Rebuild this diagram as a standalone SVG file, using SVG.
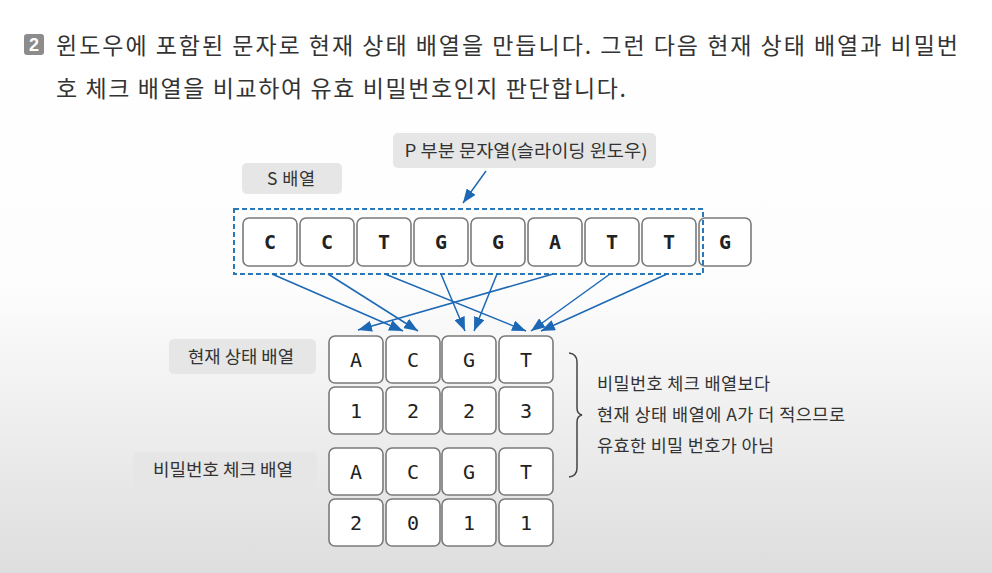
<svg xmlns="http://www.w3.org/2000/svg" width="992" height="573" viewBox="0 0 992 573">
<defs>
<linearGradient id="bg" x1="0" y1="0" x2="0" y2="1">
<stop offset="0" stop-color="#ffffff"/>
<stop offset="0.5" stop-color="#fdfdfd"/>
<stop offset="1" stop-color="#dedede"/>
</linearGradient>
<marker id="ah" viewBox="0 0 14 11" refX="14" refY="5.5" markerWidth="14" markerHeight="11" markerUnits="userSpaceOnUse" orient="auto">
<path d="M0,0 L14,5.5 L0,11 Z" fill="#1d68b5"/>
</marker>
<style>
.hd{font-family:"Noto Sans CJK KR","Noto Sans",sans-serif;font-size:23px;fill:#333}
.lbl{fill:#e6e6e6}
.lt{font-family:"Noto Sans CJK KR","Noto Sans",sans-serif;font-size:17.5px;fill:#333;text-anchor:middle}
.cell{fill:#ffffff;stroke:#7a7a7a;stroke-width:1.6}
.sl{font-family:"DejaVu Sans Mono",monospace;font-size:20px;font-weight:bold;fill:#222;text-anchor:middle}
.gl{font-family:"DejaVu Sans Mono",monospace;font-size:20px;fill:#222;text-anchor:middle}
.arr{stroke:#1d68b5;stroke-width:1.5;fill:none;marker-end:url(#ah)}
.note{font-family:"Noto Sans CJK KR","Noto Sans",sans-serif;font-size:17.5px;fill:#333}
</style>
</defs>
<rect width="992" height="573" fill="url(#bg)"/>

<g id="header">
<rect x="24" y="34" width="20" height="21" rx="3" fill="#8c8c8c"/>
<text x="34" y="51" font-family="Liberation Sans, sans-serif" font-size="18" font-weight="bold" fill="#fff" text-anchor="middle">2</text>
<text class="hd" x="56" y="54" textLength="902" lengthAdjust="spacing">윈도우에 포함된 문자로 현재 상태 배열을 만듭니다. 그런 다음 현재 상태 배열과 비밀번</text>
<text class="hd" x="56" y="97" textLength="570" lengthAdjust="spacing">호 체크 배열을 비교하여 유효 비밀번호인지 판단합니다.</text>
</g>

<g id="label-p">
<rect class="lbl" x="393" y="133" width="263" height="35" rx="5"/>
<text class="lt" x="526" y="157" font-size="18.5" textLength="243" lengthAdjust="spacingAndGlyphs">P 부분 문자열(슬라이딩 윈도우)</text>
</g>
<g id="label-s">
<rect class="lbl" x="242" y="163" width="100" height="31" rx="5"/>
<text class="lt" x="291" y="185" font-size="18.5" textLength="48" lengthAdjust="spacing">S 배열</text>
</g>

<g id="s-array">
<rect class="cell" x="243" y="218" width="54" height="48" rx="6"/>
<rect class="cell" x="300" y="218" width="54" height="48" rx="6"/>
<rect class="cell" x="357" y="218" width="54" height="48" rx="6"/>
<rect class="cell" x="414" y="218" width="54" height="48" rx="6"/>
<rect class="cell" x="471" y="218" width="54" height="48" rx="6"/>
<rect class="cell" x="528" y="218" width="54" height="48" rx="6"/>
<rect class="cell" x="585" y="218" width="54" height="48" rx="6"/>
<rect class="cell" x="642" y="218" width="54" height="48" rx="6"/>
<rect class="cell" x="699" y="218" width="52" height="48" rx="6"/>
<text class="sl" x="270" y="249">C</text>
<text class="sl" x="327" y="249">C</text>
<text class="sl" x="384" y="249">T</text>
<text class="sl" x="441" y="249">G</text>
<text class="sl" x="498" y="249">G</text>
<text class="sl" x="555" y="249">A</text>
<text class="sl" x="612" y="249">T</text>
<text class="sl" x="669" y="249">T</text>
<text class="sl" x="725" y="249">G</text>
</g>

<g id="window">
<rect x="234" y="209" width="469" height="65" fill="none" stroke="#2a78b8" stroke-width="2" stroke-dasharray="5,3"/>
</g>

<g id="label-current">
<rect class="lbl" x="169" y="339" width="147" height="35" rx="5"/>
<text class="lt" x="241" y="363" textLength="106" lengthAdjust="spacingAndGlyphs">현재 상태 배열</text>
</g>
<g id="label-check">
<rect class="lbl" x="133" y="452" width="184" height="35" rx="5"/>
<text class="lt" x="223" y="476" textLength="140" lengthAdjust="spacingAndGlyphs">비밀번호 체크 배열</text>
</g>

<g id="current-array">
<rect class="cell" x="329" y="336" width="54" height="47" rx="6"/>
<rect class="cell" x="386" y="336" width="54" height="47" rx="6"/>
<rect class="cell" x="442" y="336" width="54" height="47" rx="6"/>
<rect class="cell" x="499" y="336" width="54" height="47" rx="6"/>
<rect class="cell" x="329" y="387" width="54" height="47" rx="6"/>
<rect class="cell" x="386" y="387" width="54" height="47" rx="6"/>
<rect class="cell" x="442" y="387" width="54" height="47" rx="6"/>
<rect class="cell" x="499" y="387" width="54" height="47" rx="6"/>
<text class="gl" x="356" y="367">A</text>
<text class="gl" x="413" y="367">C</text>
<text class="gl" x="469" y="367">G</text>
<text class="gl" x="526" y="367">T</text>
<text class="gl" x="356" y="418">1</text>
<text class="gl" x="413" y="418">2</text>
<text class="gl" x="469" y="418">2</text>
<text class="gl" x="526" y="418">3</text>
</g>

<g id="check-array">
<rect class="cell" x="329" y="448" width="54" height="47" rx="6"/>
<rect class="cell" x="386" y="448" width="54" height="47" rx="6"/>
<rect class="cell" x="442" y="448" width="54" height="47" rx="6"/>
<rect class="cell" x="499" y="448" width="54" height="47" rx="6"/>
<rect class="cell" x="329" y="499" width="54" height="47" rx="6"/>
<rect class="cell" x="386" y="499" width="54" height="47" rx="6"/>
<rect class="cell" x="442" y="499" width="54" height="47" rx="6"/>
<rect class="cell" x="499" y="499" width="54" height="47" rx="6"/>
<text class="gl" x="356" y="479">A</text>
<text class="gl" x="413" y="479">C</text>
<text class="gl" x="469" y="479">G</text>
<text class="gl" x="526" y="479">T</text>
<text class="gl" x="356" y="530">2</text>
<text class="gl" x="413" y="530">0</text>
<text class="gl" x="469" y="530">1</text>
<text class="gl" x="526" y="530">1</text>
</g>

<g id="connectors">
<line class="arr" x1="486" y1="171" x2="463" y2="203"/>
<line class="arr" x1="272" y1="274" x2="403" y2="331"/>
<line class="arr" x1="328" y1="274" x2="418" y2="331"/>
<line class="arr" x1="385" y1="274" x2="526" y2="331"/>
<line class="arr" x1="441" y1="274" x2="465" y2="331"/>
<line class="arr" x1="497" y1="274" x2="474" y2="331"/>
<line class="arr" x1="553" y1="274" x2="358" y2="330"/>
<line class="arr" x1="610" y1="274" x2="531" y2="331"/>
<line class="arr" x1="667" y1="274" x2="541" y2="331"/>
</g>

<g id="note">
<path d="M569,353 Q577,354 577,362 L577,408 Q577,414 582,415 Q577,416 577,422 L577,468 Q577,476 569,477" fill="none" stroke="#444" stroke-width="1.5"/>
<text class="note" x="597" y="390" textLength="173" lengthAdjust="spacing">비밀번호 체크 배열보다</text>
<text class="note" x="597" y="421" textLength="248" lengthAdjust="spacing">현재 상태 배열에 A가 더 적으므로</text>
<text class="note" x="597" y="452" textLength="177" lengthAdjust="spacing">유효한 비밀 번호가 아님</text>
</g>
</svg>
